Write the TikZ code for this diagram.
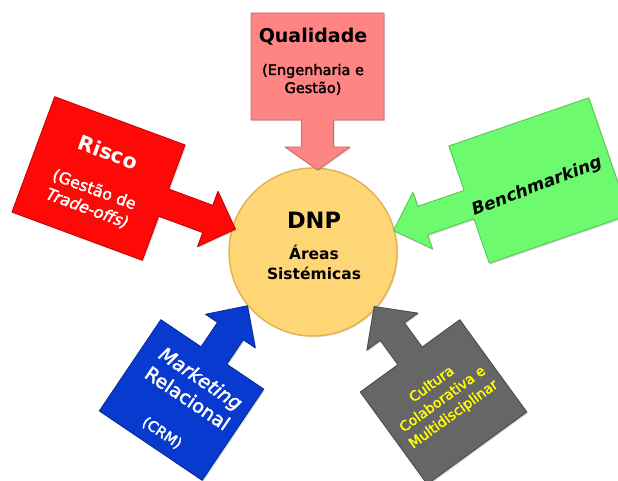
\documentclass[tikz,border=0pt]{standalone}
\usepackage{fontspec}
\setmainfont{DejaVu Sans}
\newfontfamily\semibold[FakeBold=2]{DejaVu Sans}
\usetikzlibrary{shadows}

\definecolor{hubfill}{RGB}{255,214,118}
\definecolor{hubedge}{RGB}{226,176,78}
\definecolor{qualfill}{RGB}{255,132,132}
\definecolor{riskfill}{RGB}{255,8,8}
\definecolor{benchfill}{RGB}{110,250,110}
\definecolor{crmfill}{RGB}{8,58,208}
\definecolor{culturefill}{RGB}{102,102,102}
\definecolor{culturetext}{RGB}{255,255,0}

\newcommand{\txtsize}[1]{\fontsize{#1}{#1}\selectfont}

\tikzset{
  calloutshape/.style={line width=0.9pt, line join=round,
    drop shadow={shadow xshift=1.2pt, shadow yshift=-1.2pt, opacity=0.3}},
  label/.style={inner sep=0pt, transform shape},
}

\begin{document}
\begin{tikzpicture}[x=1pt,y=1pt]
\useasboundingbox (0,0) rectangle (618,-481);
\clip (0,0) rectangle (618,-481);

% central hub
\node[circle, minimum size=168pt, inner sep=0pt, fill=hubfill, draw=hubedge,
      line width=1.4pt, drop shadow={shadow xshift=1.2pt, shadow yshift=-1.2pt, opacity=0.25}]
      (dnp) at (313,-252) {};
\node[inner sep=0pt, anchor=base, font=\bfseries\txtsize{22.5}] (dnptitle) at (314,-228) {DNP};
\node[inner sep=0pt, anchor=base, font=\bfseries\txtsize{15.5}] (dnpareas) at (314,-259.5) {Áreas};
\node[inner sep=0pt, anchor=base, font=\bfseries\txtsize{15.5}] (dnpsist) at (314,-279.5) {Sistémicas};

% Qualidade (top)
\begin{scope}[shift={(317.5,-66.5)}]
  \path[calloutshape, fill=qualfill, draw=qualfill!80!black]
    (-66.5,53.5) -- (66.5,53.5) -- (66.5,-53.5) -- (16,-53.5) -- (16,-80.5)
    -- (32.5,-80.5) -- (0,-103.5) -- (-32.5,-80.5) -- (-16,-80.5) -- (-16,-53.5)
    -- (-66.5,-53.5) -- cycle;
  \node[label, anchor=base, font=\bfseries\txtsize{19}] (qual) at (-4.5,23.5) {Qualidade};
  \node[label, anchor=base, align=center, font=\semibold\txtsize{14.5}] (qualsub) at (-4.5,-26.5)
    {(Engenharia e\\[3.5pt]Gestão)};
\end{scope}

% Risco (left)
\begin{scope}[shift={(98.5,-178.5)}, rotate=-20.3]
  \path[calloutshape, fill=riskfill, draw=riskfill!78!black]
    (-69.5,61.5) -- (69.5,61.5) -- (69.5,14.5) -- (116.5,14.5) -- (116.5,29.5)
    -- (146,0) -- (116.5,-29.5) -- (116.5,-14.5) -- (69.5,-14.5) -- (69.5,-61.5)
    -- (-69.5,-61.5) -- cycle;
  \node[label, text=white, font=\bfseries\txtsize{20.5}] (risco) at (0,28) {Risco};
  \node[label, text=white, align=center, font=\semibold\txtsize{16}] (riscosub) at (0,-22)
    {(Gestão de\\[4pt]\itshape Trade-offs)};
\end{scope}

% Benchmarking (right)
\begin{scope}[shift={(539,-180.5)}, rotate=19]
  \path[calloutshape, fill=benchfill, draw=benchfill!80!black]
    (74,62) -- (-74,62) -- (-74,15) -- (-123,15) -- (-123,30) -- (-154,0)
    -- (-123,-30) -- (-123,-15) -- (-74,-15) -- (-74,-62) -- (74,-62) -- cycle;
  \node[label, rotate=2, font=\bfseries\itshape\txtsize{17}] (bench) at (-4,-5.5) {Benchmarking};
\end{scope}

% Marketing Relacional (lower left)
\begin{scope}[shift={(181.5,-400)}, rotate=-34]
  \path[calloutshape, fill=crmfill, draw=crmfill!75!black]
    (-62,-55) -- (62,-55) -- (62,55) -- (17.5,55) -- (17.5,84.5) -- (32,84.5)
    -- (2,115) -- (-28,84.5) -- (-13.5,84.5) -- (-13.5,55) -- (-62,55) -- cycle;
  \node[label, text=white, align=center, font=\semibold\txtsize{19}] (crmname) at (4,17)
    {\itshape Marketing\\[5pt]Relacional};
  \node[label, text=white, font=\semibold\txtsize{14.5}] (crmabbr) at (2.3,-38.3) {(CRM)};
\end{scope}

% Cultura Colaborativa (lower right)
\begin{scope}[shift={(443.5,-402)}, rotate=36]
  \path[calloutshape, fill=culturefill, draw=culturefill!75!black]
    (-61.5,-57) -- (61.5,-57) -- (61.5,57) -- (15,57) -- (15,87) -- (31.5,87)
    -- (0,118) -- (-31.5,87) -- (-15,87) -- (-15,57) -- (-61.5,57) -- cycle;
  \node[label, text=culturetext, align=center, font=\semibold\txtsize{14}] (culture) at (0.8,2.3)
    {Cultura\\[4.5pt]Colaborativa e\\[4.5pt]Multidisciplinar};
\end{scope}
\end{tikzpicture}
\end{document}
